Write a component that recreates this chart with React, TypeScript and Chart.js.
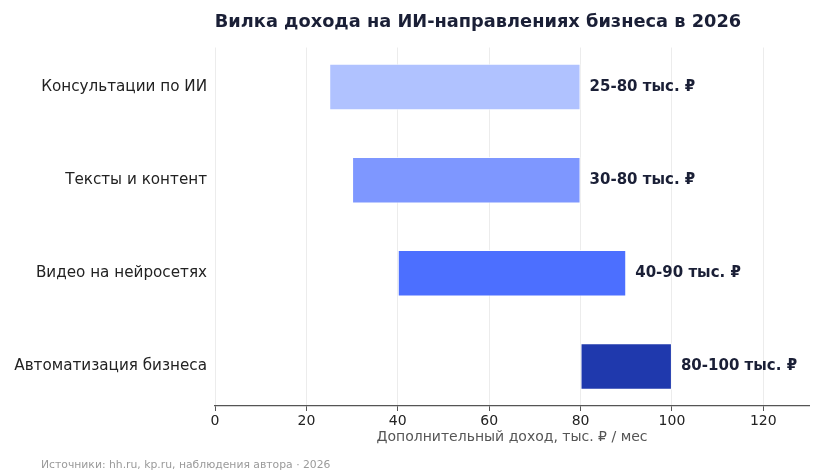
import { useEffect, useRef } from "react"
import { Chart, registerables } from "chart.js"

Chart.register(...registerables)

const CATEGORIES = ["Консультации по ИИ", "Тексты и контент", "Видео на нейросетях", "Автоматизация бизнеса"]
const LOW = [25, 30, 40, 80]
const HIGH = [80, 80, 90, 100]
const COLORS = ["#b0c2ff", "#7e97ff", "#4c6fff", "#1f39ad"]
const X_TICKS = [0, 20, 40, 60, 80, 100, 120]

const TITLE = "Вилка дохода на ИИ-направлениях бизнеса в 2026"
const X_TITLE = "Дополнительный доход, тыс. ₽ / мес"
const SOURCE = "Источники: hh.ru, kp.ru, наблюдения автора · 2026"

const FONT = "'DejaVu Sans', sans-serif"

const overlay = {
  id: "overlay",
  afterDatasetsDraw(chart: Chart) {
    const ctx = chart.ctx
    ctx.save()
    ctx.fillStyle = "#1a1f36"
    ctx.font = `bold 15px ${FONT}`
    ctx.textAlign = "left"
    ctx.textBaseline = "middle"
    chart.getDatasetMeta(0).data.forEach((bar: any, i) => {
      ctx.fillText(`${LOW[i]}-${HIGH[i]} тыс. ₽`, bar.x + 9, bar.y)
    })
    ctx.restore()
  },
  afterDraw(chart: Chart) {
    const ctx = chart.ctx
    ctx.save()
    ctx.fillStyle = "#1a1f36"
    ctx.font = `bold 17.8px ${FONT}`
    ctx.textAlign = "center"
    ctx.textBaseline = "middle"
    ctx.fillText(TITLE, 478, 22)
    ctx.fillStyle = "#9a9a9a"
    ctx.font = `10.8px ${FONT}`
    ctx.textAlign = "left"
    ctx.fillText(SOURCE, 41, 465)
    ctx.restore()
  },
}

export default function App() {
  const canvasRef = useRef<HTMLCanvasElement>(null)
  const chartRef = useRef<Chart | null>(null)

  useEffect(() => {
    if (!canvasRef.current) return
    chartRef.current?.destroy()

    chartRef.current = new Chart(canvasRef.current, {
      type: "bar",
      data: {
        datasets: [{
          data: CATEGORIES.map((_, i) => ({ y: i, x: [LOW[i], HIGH[i]] })) as any,
          backgroundColor: COLORS,
          borderColor: "rgba(255,255,255,0.8)",
          borderWidth: 1,
          borderSkipped: false,
          barPercentage: 0.5,
          categoryPercentage: 1,
        }],
      },
      options: {
        indexAxis: "y",
        animation: false,
        responsive: true,
        maintainAspectRatio: false,
        layout: { padding: { top: 47.5, right: 13, bottom: 0, left: 0 } },
        plugins: { legend: { display: false }, tooltip: { enabled: false } },
        scales: {
          x: {
            type: "linear",
            min: 0,
            max: 130,
            afterBuildTicks: (axis: any) => { axis.ticks = X_TICKS.map(v => ({ value: v })) },
            afterFit: (axis: any) => { axis.height = 68 },
            grid: { color: "#ececec", lineWidth: 1, tickColor: "#555", tickLength: 5 },
            border: { display: true, color: "#555", width: 1.3 },
            ticks: { color: "#222", font: { family: FONT, size: 14 }, padding: 2 },
            title: {
              display: true,
              text: X_TITLE,
              color: "#555",
              font: { family: FONT, size: 14 },
              padding: { top: 0, bottom: 28 },
            },
          },
          y: {
            type: "linear",
            reverse: true,
            offset: false,
            min: -0.425,
            max: 3.425,
            afterBuildTicks: (axis: any) => { axis.ticks = CATEGORIES.map((_, i) => ({ value: i })) },
            afterFit: (axis: any) => { axis.width = 215 },
            grid: { display: false, drawTicks: false, offset: false },
            border: { display: false },
            ticks: {
              color: "#222",
              font: { family: FONT, size: 15.2 },
              padding: 8,
              autoSkip: false,
              callback: (v: any) => CATEGORIES[Number(v)] ?? "",
            },
          },
        },
      },
      plugins: [overlay],
    })

    return () => { chartRef.current?.destroy() }
  }, [])

  return (
    <div style={{ position: "fixed", left: 0, top: 0, width: 822, height: 474, background: "#fff" }}>
      <canvas ref={canvasRef} role="img" aria-label={TITLE} />
    </div>
  )
}
